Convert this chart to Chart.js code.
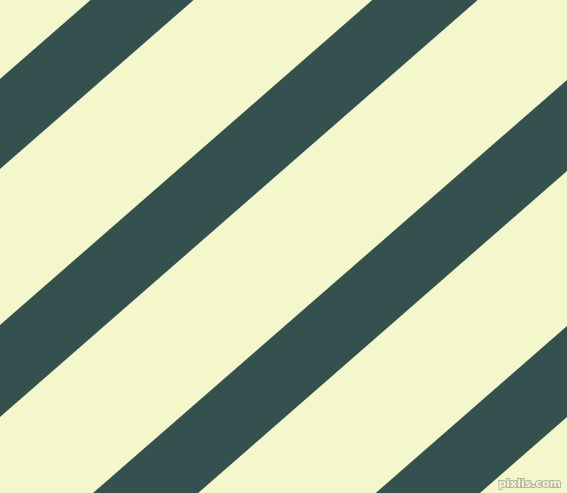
<!DOCTYPE html>
<html>
<head>
<meta charset="utf-8">
<script src="https://cdn.jsdelivr.net/npm/chart.js@4/dist/chart.umd.min.js"></script>
<style>
    html, body { margin: 0; padding: 0; background: #f4f6cc; }
    #wrap { width: 567px; height: 493px; position: relative; }
</style>
</head>
<body>
<div id="wrap"><canvas id="stripes"></canvas></div>
<script>
// Edge x positions (left and right of the picture)
const edgeX = [0, 567];

// Stripe edges: y (from top) where each edge meets the left and right border
const topAtLeft = [79, 325, 574, 821];
const topAtRight = [-416, -170, 80, 326];
const bottomAtLeft = [169, 417, 666, 912];
const bottomAtRight = [-326, -78, 171, 417];

const stripeColor = '#345150';
const backColor = '#f4f6cc';

// Build two datasets per stripe and fill between them
const datasets = [];
topAtLeft.forEach((y0, i) => {
    datasets.push({
        data: [{ x: edgeX[0], y: y0 }, { x: edgeX[1], y: topAtRight[i] }],
        borderWidth: 0,
        pointRadius: 0,
        backgroundColor: stripeColor,
        fill: '+1'
    });
    datasets.push({
        data: [{ x: edgeX[0], y: bottomAtLeft[i] }, { x: edgeX[1], y: bottomAtRight[i] }],
        borderWidth: 0,
        pointRadius: 0,
        backgroundColor: stripeColor,
        fill: false
    });
});

// Paint the background and the small watermark
const backgroundPlugin = {
    id: 'background',
    beforeDraw(chart) {
        const ctx = chart.ctx;
        ctx.save();
        ctx.fillStyle = backColor;
        ctx.fillRect(0, 0, chart.width, chart.height);
        ctx.restore();
    },
    afterDraw(chart) {
        const ctx = chart.ctx;
        ctx.save();
        ctx.font = 'bold 11px "DejaVu Sans"';
        ctx.textAlign = 'right';
        ctx.textBaseline = 'alphabetic';
        ctx.lineWidth = 2;
        ctx.strokeStyle = '#b4b49c';
        ctx.strokeText('pixlis.com', 561, 487);
        ctx.fillStyle = '#f4f6dc';
        ctx.fillText('pixlis.com', 561, 487);
        ctx.restore();
    }
};

new Chart(document.getElementById('stripes').getContext('2d'), {
    type: 'line',
    data: { datasets: datasets },
    options: {
        responsive: true,
        maintainAspectRatio: false,
        animation: false,
        layout: { padding: 0 },
        plugins: {
            legend: { display: false },
            tooltip: { enabled: false }
        },
        scales: {
            x: { type: 'linear', min: 0, max: 567, display: false },
            y: { type: 'linear', min: 0, max: 493, reverse: true, display: false }
        }
    },
    plugins: [backgroundPlugin]
});
</script>
</body>
</html>
